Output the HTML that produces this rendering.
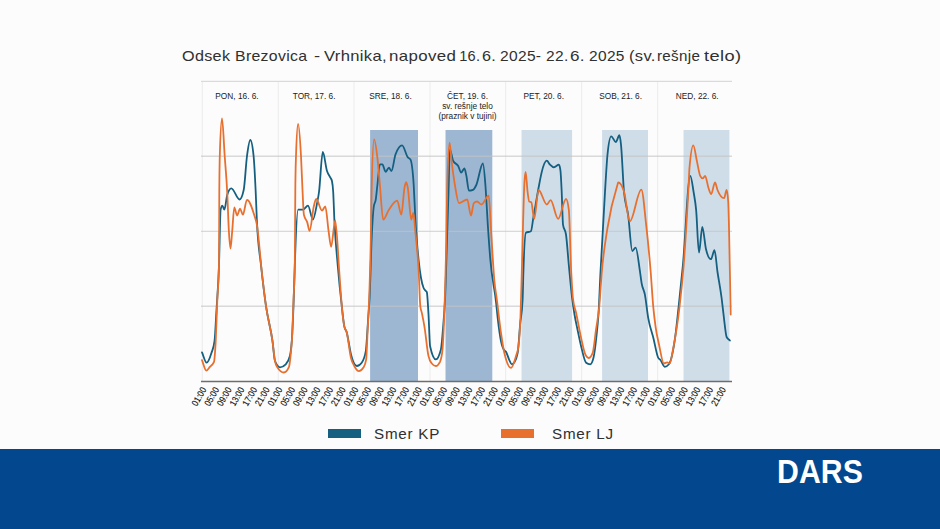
<!DOCTYPE html>
<html><head><meta charset="utf-8">
<style>
html,body{margin:0;padding:0;}
body{width:940px;height:529px;overflow:hidden;background:#fcfcfc;position:relative;font-family:"Liberation Sans", sans-serif;}
#title{position:absolute;left:0;top:47.5px;width:940px;height:20px;font-size:14.6px;color:#303030;letter-spacing:0.3px;white-space:nowrap;}
#title span{position:absolute;top:0;transform-origin:0 0;}
#band{position:absolute;left:0;top:448.5px;width:940px;height:81px;background:#03478e;}
#dars{position:absolute;left:777px;top:453px;font-size:33.6px;font-weight:bold;color:#fff;letter-spacing:0.1px;transform:scaleX(0.9);transform-origin:0 0;}
svg{position:absolute;left:0;top:0;}
.leg{position:absolute;top:429.2px;width:33px;height:8.4px;}
.legt{position:absolute;top:425px;font-size:15.2px;color:#303030;letter-spacing:0.75px;}
</style></head><body>
<svg width="940" height="529" viewBox="0 0 940 529" font-family='"Liberation Sans", sans-serif'>
<line x1="202.3" y1="81" x2="202.3" y2="381" stroke="#eeeeee" stroke-width="1.2"/>
<line x1="278.3" y1="81" x2="278.3" y2="381" stroke="#eeeeee" stroke-width="1.2"/>
<line x1="354.0" y1="81" x2="354.0" y2="381" stroke="#eeeeee" stroke-width="1.2"/>
<line x1="430.0" y1="81" x2="430.0" y2="381" stroke="#eeeeee" stroke-width="1.2"/>
<line x1="505.6" y1="81" x2="505.6" y2="381" stroke="#eeeeee" stroke-width="1.2"/>
<line x1="581.6" y1="81" x2="581.6" y2="381" stroke="#eeeeee" stroke-width="1.2"/>
<line x1="657.6" y1="81" x2="657.6" y2="381" stroke="#eeeeee" stroke-width="1.2"/>
<rect x="370.1" y="130" width="47.9" height="251.5" fill="#9db7d3"/>
<rect x="445.5" y="130" width="46.8" height="251.5" fill="#9db7d3"/>
<rect x="521.5" y="130" width="50.6" height="251.5" fill="#cfdde9"/>
<rect x="602.1" y="130" width="45.9" height="251.5" fill="#cfdde9"/>
<rect x="683.5" y="130" width="45.9" height="251.5" fill="#cfdde9"/>
<line x1="201" y1="81.3" x2="732" y2="81.3" stroke="#dadada" stroke-width="1.3"/>
<line x1="201" y1="156.3" x2="732" y2="156.3" stroke="rgb(196,196,196)" stroke-opacity="0.62" stroke-width="1.4"/>
<line x1="201" y1="231.4" x2="732" y2="231.4" stroke="rgb(196,196,196)" stroke-opacity="0.62" stroke-width="1.4"/>
<line x1="201" y1="306.3" x2="732" y2="306.3" stroke="rgb(196,196,196)" stroke-opacity="0.62" stroke-width="1.4"/>
<path d="M202.0 352.4 C203.5 355.8 205.1 362.7 206.6 362.7 C208.2 362.7 209.9 358.0 211.5 352.8 C212.5 349.6 213.5 348.9 214.5 341.2 C215.2 336.0 215.8 321.1 216.5 310.0 C217.3 296.1 218.2 288.4 219.0 265.0 C219.5 250.0 220.1 212.3 220.6 209.7 C221.2 207.0 221.7 205.6 222.3 205.6 C223.0 205.6 223.7 209.7 224.4 209.7 C225.3 209.7 226.3 197.9 227.2 194.9 C228.6 190.5 229.9 188.3 231.3 188.3 C234.1 188.3 236.8 199.5 239.6 199.5 C241.0 199.5 242.3 196.3 243.7 190.0 C244.8 184.9 245.9 164.3 247.0 156.0 C248.1 147.7 249.2 140.0 250.3 140.0 C251.4 140.0 252.5 145.3 253.6 156.0 C254.3 162.8 255.0 176.8 255.7 192.0 C256.1 200.7 256.5 212.8 256.9 221.3 C258.3 250.4 259.6 251.9 261.0 265.0 C262.7 280.9 264.3 294.5 266.0 306.2 C268.2 321.4 270.3 325.6 272.5 341.2 C273.3 347.2 274.2 358.9 275.0 361.0 C276.7 365.2 278.3 367.3 280.0 367.3 C281.9 367.3 283.8 366.3 285.7 364.3 C287.1 362.8 288.5 361.5 289.9 356.0 C290.7 352.8 291.5 347.7 292.3 333.0 C292.8 324.4 293.2 313.2 293.7 300.0 C294.1 289.7 294.4 275.3 294.8 265.0 C295.9 234.1 297.0 209.7 298.1 209.7 C299.7 209.7 301.4 209.7 303.0 209.7 C304.7 209.7 306.3 205.6 308.0 205.6 C309.6 205.6 311.3 219.6 312.9 219.6 C314.3 219.6 315.7 210.4 317.1 203.1 C317.7 199.8 318.4 196.7 319.0 192.0 C320.3 182.6 321.5 152.0 322.8 152.0 C324.2 152.0 325.6 166.7 327.0 171.0 C328.1 174.4 329.2 175.3 330.3 177.5 C330.8 178.6 331.4 178.6 331.9 180.8 C332.3 182.6 332.8 184.9 333.2 192.0 C333.6 198.6 334.0 212.0 334.4 220.4 C335.5 243.5 336.6 251.8 337.7 265.0 C339.1 281.4 340.4 294.1 341.8 306.2 C342.6 313.6 343.5 322.4 344.3 326.4 C345.1 330.3 345.9 329.5 346.7 332.2 C348.1 337.1 349.6 348.9 351.0 354.4 C352.9 361.8 354.9 366.0 356.8 366.0 C358.4 366.0 360.1 364.9 361.7 362.7 C363.1 360.9 364.4 358.8 365.8 351.1 C366.6 346.4 367.5 328.0 368.3 316.5 C368.7 311.0 369.1 307.7 369.5 300.0 C370.2 286.6 370.9 255.5 371.6 240.0 C372.3 223.8 373.1 211.5 373.8 206.4 C374.4 202.0 375.1 203.7 375.7 199.8 C376.3 196.3 376.8 189.8 377.4 185.0 C378.2 177.9 379.1 164.4 379.9 164.4 C380.7 164.4 381.6 164.4 382.4 164.4 C383.5 164.4 384.5 171.8 385.6 171.8 C386.7 171.8 387.8 167.7 388.9 167.7 C389.7 167.7 390.6 171.0 391.4 171.0 C392.8 171.0 394.1 158.3 395.5 154.5 C397.7 148.4 399.9 145.4 402.1 145.4 C404.0 145.4 406.0 155.1 407.9 157.4 C408.7 158.4 409.6 158.1 410.4 159.4 C411.5 161.2 412.6 167.9 413.7 185.0 C414.2 193.3 414.8 208.6 415.3 218.0 C415.9 228.0 416.4 235.6 417.0 242.7 C417.5 249.4 418.1 254.8 418.6 259.8 C420.2 275.3 421.9 283.6 423.5 287.8 C424.1 289.3 424.6 289.6 425.2 290.3 C425.7 291.0 426.3 290.9 426.8 292.0 C427.4 293.2 427.9 304.8 428.5 314.2 C429.0 323.1 429.6 343.8 430.1 346.2 C432.0 355.0 434.0 359.4 435.9 359.4 C437.6 359.4 439.2 356.1 440.9 349.5 C441.7 346.3 442.5 334.9 443.3 324.7 C443.9 317.5 444.4 312.3 445.0 300.0 C445.7 285.6 446.3 260.8 447.0 240.0 C447.5 224.4 448.0 207.6 448.5 192.0 C449.0 177.5 449.4 149.5 449.9 149.5 C451.0 149.5 452.1 158.8 453.2 161.0 C454.9 164.3 456.5 163.0 458.2 166.0 C459.2 167.7 460.1 172.6 461.1 172.6 C462.2 172.6 463.3 168.5 464.4 168.5 C465.1 168.5 465.7 172.8 466.4 175.9 C467.2 179.8 468.1 190.7 468.9 190.7 C470.3 190.7 471.6 190.4 473.0 189.9 C474.1 189.5 475.2 187.3 476.3 185.0 C478.5 180.4 480.7 163.5 482.9 163.5 C483.7 163.5 484.6 174.6 485.4 185.0 C486.2 195.4 487.1 213.6 487.9 226.2 C488.7 238.3 489.5 249.7 490.3 259.2 C492.2 282.2 494.2 285.0 496.1 302.7 C496.6 307.6 497.2 313.4 497.7 318.1 C498.8 327.7 499.9 335.8 501.0 341.2 C502.1 346.4 503.1 348.6 504.2 350.2 C504.8 351.1 505.3 350.8 505.9 351.6 C507.0 353.1 508.1 357.5 509.2 359.8 C510.1 361.6 511.0 364.4 511.9 364.4 C512.7 364.4 513.4 363.8 514.2 362.6 C515.4 360.8 516.5 359.3 517.7 352.8 C518.5 348.3 519.3 333.4 520.1 324.7 C520.9 315.7 521.8 316.5 522.6 300.0 C522.9 294.7 523.1 280.1 523.4 272.0 C524.2 246.7 525.1 233.3 525.9 232.8 C527.6 231.7 529.2 232.3 530.9 231.2 C531.7 230.7 532.5 222.4 533.3 218.0 C535.2 207.3 537.2 195.0 539.1 185.0 C539.9 180.7 540.8 176.0 541.6 172.6 C543.3 165.5 545.1 160.7 546.8 160.7 C547.8 160.7 548.8 163.4 549.8 164.4 C551.2 165.8 552.5 167.3 553.9 167.3 C555.6 167.3 557.2 164.7 558.9 164.7 C559.4 164.7 560.0 166.8 560.5 171.0 C560.9 174.2 561.3 183.5 561.7 192.0 C562.1 201.2 562.6 221.7 563.0 224.6 C564.0 231.2 565.0 227.9 566.0 234.5 C566.9 240.7 567.9 255.2 568.8 265.0 C569.9 276.5 571.0 289.0 572.1 298.0 C572.9 304.6 573.7 309.6 574.5 314.5 C575.6 321.2 576.7 325.7 577.8 331.0 C578.9 336.3 580.0 341.7 581.1 346.2 C582.8 353.0 584.4 361.4 586.1 362.7 C587.5 363.8 588.8 364.3 590.2 364.3 C591.3 364.3 592.4 362.1 593.5 357.7 C594.6 353.3 595.7 343.9 596.8 333.0 C597.4 327.4 597.9 322.9 598.5 314.0 C599.2 303.5 599.8 285.3 600.5 272.0 C602.0 242.0 603.5 216.0 605.0 192.0 C605.8 178.7 606.7 162.7 607.5 154.5 C608.7 142.4 610.0 136.3 611.2 136.3 C612.7 136.3 614.3 142.1 615.8 142.1 C617.0 142.1 618.2 135.2 619.4 135.2 C619.9 135.2 620.5 139.6 621.0 144.6 C622.0 153.9 623.0 180.9 624.0 192.0 C625.4 207.1 626.7 205.0 628.1 214.7 C629.5 224.6 630.9 251.0 632.3 251.0 C633.4 251.0 634.5 247.7 635.6 247.7 C637.1 247.7 638.5 261.7 640.0 271.6 C640.5 275.2 641.1 279.9 641.6 283.1 C642.7 289.7 643.8 288.9 644.9 294.7 C646.0 300.5 647.1 311.4 648.2 317.8 C650.0 328.1 651.7 331.4 653.5 338.5 C655.0 344.7 656.6 354.2 658.1 357.5 C658.9 359.3 659.8 359.1 660.6 360.2 C662.0 362.0 663.3 366.8 664.7 366.8 C666.1 366.8 667.5 366.0 668.9 364.3 C670.8 362.0 672.7 353.9 674.6 341.2 C676.0 332.1 677.3 318.7 678.7 306.2 C680.1 293.4 681.5 279.9 682.9 265.0 C685.4 238.8 687.8 175.9 690.3 175.9 C691.4 175.9 692.5 185.3 693.6 192.0 C694.4 197.1 695.3 200.8 696.1 209.7 C697.1 220.0 698.0 252.6 699.0 252.6 C700.1 252.6 701.2 227.0 702.3 227.0 C703.5 227.0 704.8 244.3 706.0 249.3 C707.6 255.9 709.3 259.2 710.9 259.2 C712.1 259.2 713.3 250.1 714.5 250.1 C715.5 250.1 716.5 265.1 717.5 272.0 C718.9 281.4 720.2 287.4 721.6 298.0 C722.4 304.4 723.3 312.9 724.1 319.4 C724.9 325.9 725.8 335.2 726.6 337.0 C727.7 339.3 728.8 339.3 729.9 340.5" fill="none" stroke="#155f80" stroke-width="1.8" stroke-linejoin="round" stroke-linecap="round"/>
<path d="M202.0 360.2 C203.4 363.7 204.9 370.6 206.3 370.6 C207.5 370.6 208.7 368.2 209.9 366.8 C211.3 365.3 212.6 365.1 214.0 361.8 C214.6 360.4 215.1 352.0 215.7 341.2 C216.2 331.0 216.8 312.4 217.3 300.0 C217.9 286.8 218.4 288.3 219.0 265.0 C219.1 260.9 219.2 206.4 219.3 192.0 C219.5 168.0 219.6 161.7 219.8 156.0 C220.5 131.0 221.3 118.5 222.0 118.5 C222.9 118.5 223.8 143.3 224.7 156.0 C225.5 167.8 226.4 175.7 227.2 192.0 C227.8 203.1 228.3 221.7 228.9 231.2 C229.4 240.1 230.0 248.5 230.5 248.5 C231.1 248.5 231.6 237.3 232.2 231.2 C232.9 223.7 233.6 207.3 234.3 207.3 C235.2 207.3 236.2 215.5 237.1 215.5 C238.1 215.5 239.1 208.6 240.1 208.6 C241.0 208.6 242.0 214.7 242.9 214.7 C244.3 214.7 245.6 199.8 247.0 199.8 C249.5 199.8 251.9 207.5 254.4 215.5 C255.2 218.2 256.1 219.9 256.9 224.6 C258.5 233.9 260.2 257.5 261.8 272.0 C263.2 284.4 264.6 296.3 266.0 306.2 C268.2 321.5 270.3 325.6 272.5 341.2 C273.3 347.2 274.2 356.6 275.0 361.0 C275.8 365.4 276.7 366.3 277.5 367.6 C279.6 370.9 281.7 372.5 283.8 372.5 C285.5 372.5 287.3 370.6 289.0 366.8 C289.6 365.6 290.1 360.3 290.7 354.4 C291.2 348.8 291.8 344.4 292.3 333.0 C292.7 324.4 293.1 310.9 293.5 300.0 C293.9 288.2 294.4 288.3 294.8 265.0 C295.0 256.0 295.1 209.1 295.3 192.0 C295.5 168.0 295.8 163.1 296.0 156.0 C296.7 134.7 297.4 124.0 298.1 124.0 C299.1 124.0 300.0 137.9 301.0 156.0 C301.5 165.4 302.0 180.0 302.5 190.0 C303.0 199.4 303.4 212.6 303.9 214.7 C305.0 219.6 306.1 218.8 307.2 222.1 C308.0 224.5 308.8 230.8 309.6 230.8 C311.0 230.8 312.4 212.1 313.8 206.4 C314.6 203.1 315.4 199.0 316.2 199.0 C318.1 199.0 320.1 210.6 322.0 210.6 C323.1 210.6 324.2 206.4 325.3 206.4 C326.4 206.4 327.5 223.7 328.6 231.2 C329.4 236.9 330.3 246.8 331.1 246.8 C332.5 246.8 333.8 220.4 335.2 220.4 C336.6 220.4 337.9 253.9 339.3 272.0 C340.1 283.1 341.0 297.1 341.8 306.2 C342.6 315.3 343.5 322.4 344.3 326.4 C345.1 330.3 345.9 329.2 346.7 332.2 C348.1 337.4 349.5 352.0 350.9 357.7 C352.0 362.3 353.2 363.9 354.3 366.0 C355.8 368.9 357.4 371.2 358.9 371.2 C360.4 371.2 361.9 370.0 363.4 367.6 C364.3 366.1 365.3 364.9 366.2 359.4 C366.6 356.9 367.1 341.9 367.5 333.0 C368.0 322.1 368.6 314.8 369.1 300.0 C369.7 284.3 370.2 269.5 370.8 240.0 C371.1 226.1 371.3 203.2 371.6 192.0 C372.4 156.9 373.3 139.3 374.1 139.3 C375.2 139.3 376.3 148.3 377.4 157.8 C378.2 165.0 379.1 176.1 379.9 185.0 C381.0 196.8 382.1 219.6 383.2 219.6 C385.1 219.6 387.0 212.5 388.9 209.7 C391.7 205.6 394.4 200.7 397.2 200.7 C398.6 200.7 399.9 214.7 401.3 214.7 C402.4 214.7 403.5 192.2 404.6 187.0 C405.1 184.5 405.7 182.2 406.2 182.2 C406.8 182.2 407.3 185.1 407.9 188.3 C409.0 194.5 410.1 219.6 411.2 219.6 C411.9 219.6 412.6 213.0 413.3 213.0 C414.0 213.0 414.6 224.5 415.3 231.2 C416.4 242.3 417.5 249.8 418.6 269.7 C419.2 279.9 419.7 300.9 420.3 306.0 C420.8 310.8 421.4 310.6 421.9 313.2 C422.7 317.2 423.6 321.4 424.4 326.4 C425.8 334.6 427.1 350.0 428.5 356.1 C429.6 361.0 430.7 362.2 431.8 363.5 C433.2 365.2 434.5 366.0 435.9 366.0 C437.3 366.0 438.6 364.6 440.0 361.8 C440.8 360.1 441.7 357.7 442.5 349.5 C443.1 343.9 443.6 331.8 444.2 316.5 C444.9 297.6 445.6 277.4 446.3 240.0 C446.6 225.7 446.8 202.5 447.1 192.0 C447.9 159.1 448.8 142.6 449.6 142.6 C450.3 142.6 450.9 155.4 451.6 161.0 C452.7 170.3 453.8 178.4 454.9 185.0 C456.3 193.2 457.6 203.1 459.0 203.1 C461.7 203.1 464.5 199.5 467.2 199.5 C468.5 199.5 469.7 215.5 471.0 215.5 C471.9 215.5 472.9 204.0 473.8 203.1 C474.9 202.0 476.0 201.5 477.1 201.5 C478.5 201.5 479.9 204.5 481.3 204.5 C483.8 204.5 486.2 195.7 488.7 195.7 C489.5 195.7 490.3 219.2 491.1 231.2 C492.2 247.6 493.3 269.3 494.4 281.2 C495.2 290.2 496.1 293.6 496.9 300.0 C498.3 310.6 499.6 323.6 501.0 333.0 C502.1 340.6 503.2 347.9 504.3 352.8 C506.6 362.9 508.8 367.9 511.1 367.9 C512.7 367.9 514.4 361.7 516.0 356.1 C516.8 353.2 517.7 352.8 518.5 346.2 C519.2 340.9 519.8 334.2 520.5 316.5 C520.9 305.0 521.4 286.9 521.8 272.0 C522.6 243.3 523.5 200.5 524.3 185.0 C524.7 176.9 525.2 171.8 525.6 171.8 C526.3 171.8 526.9 186.8 527.6 192.0 C528.1 196.2 528.7 201.1 529.2 201.5 C529.9 202.0 530.6 201.8 531.3 202.3 C532.3 203.0 533.2 218.8 534.2 218.8 C535.7 218.8 537.1 190.0 538.6 190.0 C541.3 190.0 544.1 204.5 546.8 204.5 C548.1 204.5 549.3 200.2 550.6 200.2 C553.1 200.2 555.6 218.8 558.1 218.8 C560.7 218.8 563.4 199.0 566.0 199.0 C566.9 199.0 567.9 202.6 568.8 209.7 C569.6 215.8 570.4 256.2 571.2 272.0 C571.8 283.2 572.3 292.8 572.9 298.0 C574.0 308.1 575.1 307.9 576.2 313.2 C577.8 321.0 579.5 330.6 581.1 337.9 C582.5 344.1 583.9 351.3 585.3 354.4 C586.4 356.8 587.5 358.0 588.6 358.0 C590.0 358.0 591.3 356.3 592.7 352.8 C593.8 350.0 594.9 337.5 596.0 329.7 C597.1 321.9 598.2 318.1 599.3 306.2 C600.1 297.2 601.0 281.9 601.8 272.0 C603.7 249.5 605.6 240.2 607.5 227.9 C610.8 206.5 614.1 195.6 617.4 185.0 C617.7 184.1 617.9 182.5 618.2 182.5 C620.1 182.5 622.1 185.5 624.0 191.6 C625.9 197.7 627.9 221.3 629.8 221.3 C633.6 221.3 637.5 189.6 641.3 189.6 C643.0 189.6 644.6 211.3 646.3 226.2 C647.8 239.3 649.2 253.7 650.7 272.0 C651.5 282.4 652.4 296.9 653.2 306.2 C654.0 315.5 654.9 321.8 655.7 327.7 C656.8 335.5 657.9 339.4 659.0 344.5 C660.6 352.0 662.3 363.5 663.9 363.5 C665.0 363.5 666.1 362.3 667.2 362.3 C668.0 362.3 668.9 363.5 669.7 363.5 C670.8 363.5 671.9 355.0 673.0 349.5 C675.2 338.5 677.4 325.4 679.6 306.2 C681.0 294.3 682.3 282.6 683.7 265.0 C685.3 243.9 687.0 215.7 688.6 185.0 C688.9 179.4 689.2 171.2 689.5 167.7 C690.8 152.8 692.0 145.4 693.3 145.4 C694.5 145.4 695.7 155.8 696.9 161.1 C698.0 166.0 699.1 173.7 700.2 175.9 C701.0 177.6 701.9 178.4 702.7 178.4 C703.5 178.4 704.3 175.9 705.1 175.9 C706.2 175.9 707.4 184.8 708.5 188.0 C709.4 190.6 710.3 194.1 711.2 194.1 C712.5 194.1 713.7 182.5 715.0 182.5 C715.8 182.5 716.7 187.9 717.5 190.0 C719.7 195.5 721.9 198.2 724.1 198.2 C724.9 198.2 725.8 189.9 726.6 189.9 C727.1 189.9 727.7 193.8 728.2 201.5 C728.8 209.7 729.3 244.0 729.9 272.0 C730.2 285.2 730.4 300.3 730.7 314.5" fill="none" stroke="#e8702f" stroke-width="1.8" stroke-linejoin="round" stroke-linecap="round"/>
<line x1="201" y1="381.5" x2="732" y2="381.5" stroke="#6e6e6e" stroke-width="1.5"/>
<text x="237.0" y="99.3" text-anchor="middle" font-size="8.3" fill="#222">PON, 16. 6.</text>
<text x="314.1" y="99.3" text-anchor="middle" font-size="8.3" fill="#222">TOR, 17. 6.</text>
<text x="390.5" y="99.3" text-anchor="middle" font-size="8.3" fill="#222">SRE, 18. 6.</text>
<text x="467.5" y="99.3" text-anchor="middle" font-size="8.3" fill="#222">ČET, 19. 6.</text>
<text x="467.5" y="108.9" text-anchor="middle" font-size="8.3" fill="#222">sv. rešnje telo</text>
<text x="467.5" y="118.5" text-anchor="middle" font-size="8.3" fill="#222">(praznik v tujini)</text>
<text x="543.7" y="99.3" text-anchor="middle" font-size="8.3" fill="#222">PET, 20. 6.</text>
<text x="620.6" y="99.3" text-anchor="middle" font-size="8.3" fill="#222">SOB, 21. 6.</text>
<text x="697.2" y="99.3" text-anchor="middle" font-size="8.3" fill="#222">NED, 22. 6.</text>
<text transform="translate(206.7 389.5) rotate(-60) scale(0.85 1)" text-anchor="end" font-size="9.4" fill="#111" stroke="#111" stroke-width="0.12" text-rendering="geometricPrecision">01:00</text>
<text transform="translate(219.4 389.5) rotate(-60) scale(0.85 1)" text-anchor="end" font-size="9.4" fill="#111" stroke="#111" stroke-width="0.12" text-rendering="geometricPrecision">05:00</text>
<text transform="translate(232.0 389.5) rotate(-60) scale(0.85 1)" text-anchor="end" font-size="9.4" fill="#111" stroke="#111" stroke-width="0.12" text-rendering="geometricPrecision">09:00</text>
<text transform="translate(244.7 389.5) rotate(-60) scale(0.85 1)" text-anchor="end" font-size="9.4" fill="#111" stroke="#111" stroke-width="0.12" text-rendering="geometricPrecision">13:00</text>
<text transform="translate(257.4 389.5) rotate(-60) scale(0.85 1)" text-anchor="end" font-size="9.4" fill="#111" stroke="#111" stroke-width="0.12" text-rendering="geometricPrecision">17:00</text>
<text transform="translate(270.0 389.5) rotate(-60) scale(0.85 1)" text-anchor="end" font-size="9.4" fill="#111" stroke="#111" stroke-width="0.12" text-rendering="geometricPrecision">21:00</text>
<text transform="translate(282.7 389.5) rotate(-60) scale(0.85 1)" text-anchor="end" font-size="9.4" fill="#111" stroke="#111" stroke-width="0.12" text-rendering="geometricPrecision">01:00</text>
<text transform="translate(295.4 389.5) rotate(-60) scale(0.85 1)" text-anchor="end" font-size="9.4" fill="#111" stroke="#111" stroke-width="0.12" text-rendering="geometricPrecision">05:00</text>
<text transform="translate(308.0 389.5) rotate(-60) scale(0.85 1)" text-anchor="end" font-size="9.4" fill="#111" stroke="#111" stroke-width="0.12" text-rendering="geometricPrecision">09:00</text>
<text transform="translate(320.7 389.5) rotate(-60) scale(0.85 1)" text-anchor="end" font-size="9.4" fill="#111" stroke="#111" stroke-width="0.12" text-rendering="geometricPrecision">13:00</text>
<text transform="translate(333.4 389.5) rotate(-60) scale(0.85 1)" text-anchor="end" font-size="9.4" fill="#111" stroke="#111" stroke-width="0.12" text-rendering="geometricPrecision">17:00</text>
<text transform="translate(346.0 389.5) rotate(-60) scale(0.85 1)" text-anchor="end" font-size="9.4" fill="#111" stroke="#111" stroke-width="0.12" text-rendering="geometricPrecision">21:00</text>
<text transform="translate(358.7 389.5) rotate(-60) scale(0.85 1)" text-anchor="end" font-size="9.4" fill="#111" stroke="#111" stroke-width="0.12" text-rendering="geometricPrecision">01:00</text>
<text transform="translate(371.4 389.5) rotate(-60) scale(0.85 1)" text-anchor="end" font-size="9.4" fill="#111" stroke="#111" stroke-width="0.12" text-rendering="geometricPrecision">05:00</text>
<text transform="translate(384.1 389.5) rotate(-60) scale(0.85 1)" text-anchor="end" font-size="9.4" fill="#111" stroke="#111" stroke-width="0.12" text-rendering="geometricPrecision">09:00</text>
<text transform="translate(396.7 389.5) rotate(-60) scale(0.85 1)" text-anchor="end" font-size="9.4" fill="#111" stroke="#111" stroke-width="0.12" text-rendering="geometricPrecision">13:00</text>
<text transform="translate(409.4 389.5) rotate(-60) scale(0.85 1)" text-anchor="end" font-size="9.4" fill="#111" stroke="#111" stroke-width="0.12" text-rendering="geometricPrecision">17:00</text>
<text transform="translate(422.1 389.5) rotate(-60) scale(0.85 1)" text-anchor="end" font-size="9.4" fill="#111" stroke="#111" stroke-width="0.12" text-rendering="geometricPrecision">21:00</text>
<text transform="translate(434.7 389.5) rotate(-60) scale(0.85 1)" text-anchor="end" font-size="9.4" fill="#111" stroke="#111" stroke-width="0.12" text-rendering="geometricPrecision">01:00</text>
<text transform="translate(447.4 389.5) rotate(-60) scale(0.85 1)" text-anchor="end" font-size="9.4" fill="#111" stroke="#111" stroke-width="0.12" text-rendering="geometricPrecision">05:00</text>
<text transform="translate(460.1 389.5) rotate(-60) scale(0.85 1)" text-anchor="end" font-size="9.4" fill="#111" stroke="#111" stroke-width="0.12" text-rendering="geometricPrecision">09:00</text>
<text transform="translate(472.7 389.5) rotate(-60) scale(0.85 1)" text-anchor="end" font-size="9.4" fill="#111" stroke="#111" stroke-width="0.12" text-rendering="geometricPrecision">13:00</text>
<text transform="translate(485.4 389.5) rotate(-60) scale(0.85 1)" text-anchor="end" font-size="9.4" fill="#111" stroke="#111" stroke-width="0.12" text-rendering="geometricPrecision">17:00</text>
<text transform="translate(498.1 389.5) rotate(-60) scale(0.85 1)" text-anchor="end" font-size="9.4" fill="#111" stroke="#111" stroke-width="0.12" text-rendering="geometricPrecision">21:00</text>
<text transform="translate(510.7 389.5) rotate(-60) scale(0.85 1)" text-anchor="end" font-size="9.4" fill="#111" stroke="#111" stroke-width="0.12" text-rendering="geometricPrecision">01:00</text>
<text transform="translate(523.4 389.5) rotate(-60) scale(0.85 1)" text-anchor="end" font-size="9.4" fill="#111" stroke="#111" stroke-width="0.12" text-rendering="geometricPrecision">05:00</text>
<text transform="translate(536.1 389.5) rotate(-60) scale(0.85 1)" text-anchor="end" font-size="9.4" fill="#111" stroke="#111" stroke-width="0.12" text-rendering="geometricPrecision">09:00</text>
<text transform="translate(548.7 389.5) rotate(-60) scale(0.85 1)" text-anchor="end" font-size="9.4" fill="#111" stroke="#111" stroke-width="0.12" text-rendering="geometricPrecision">13:00</text>
<text transform="translate(561.4 389.5) rotate(-60) scale(0.85 1)" text-anchor="end" font-size="9.4" fill="#111" stroke="#111" stroke-width="0.12" text-rendering="geometricPrecision">17:00</text>
<text transform="translate(574.1 389.5) rotate(-60) scale(0.85 1)" text-anchor="end" font-size="9.4" fill="#111" stroke="#111" stroke-width="0.12" text-rendering="geometricPrecision">21:00</text>
<text transform="translate(586.7 389.5) rotate(-60) scale(0.85 1)" text-anchor="end" font-size="9.4" fill="#111" stroke="#111" stroke-width="0.12" text-rendering="geometricPrecision">01:00</text>
<text transform="translate(599.4 389.5) rotate(-60) scale(0.85 1)" text-anchor="end" font-size="9.4" fill="#111" stroke="#111" stroke-width="0.12" text-rendering="geometricPrecision">05:00</text>
<text transform="translate(612.1 389.5) rotate(-60) scale(0.85 1)" text-anchor="end" font-size="9.4" fill="#111" stroke="#111" stroke-width="0.12" text-rendering="geometricPrecision">09:00</text>
<text transform="translate(624.7 389.5) rotate(-60) scale(0.85 1)" text-anchor="end" font-size="9.4" fill="#111" stroke="#111" stroke-width="0.12" text-rendering="geometricPrecision">13:00</text>
<text transform="translate(637.4 389.5) rotate(-60) scale(0.85 1)" text-anchor="end" font-size="9.4" fill="#111" stroke="#111" stroke-width="0.12" text-rendering="geometricPrecision">17:00</text>
<text transform="translate(650.1 389.5) rotate(-60) scale(0.85 1)" text-anchor="end" font-size="9.4" fill="#111" stroke="#111" stroke-width="0.12" text-rendering="geometricPrecision">21:00</text>
<text transform="translate(662.7 389.5) rotate(-60) scale(0.85 1)" text-anchor="end" font-size="9.4" fill="#111" stroke="#111" stroke-width="0.12" text-rendering="geometricPrecision">01:00</text>
<text transform="translate(675.4 389.5) rotate(-60) scale(0.85 1)" text-anchor="end" font-size="9.4" fill="#111" stroke="#111" stroke-width="0.12" text-rendering="geometricPrecision">05:00</text>
<text transform="translate(688.1 389.5) rotate(-60) scale(0.85 1)" text-anchor="end" font-size="9.4" fill="#111" stroke="#111" stroke-width="0.12" text-rendering="geometricPrecision">09:00</text>
<text transform="translate(700.8 389.5) rotate(-60) scale(0.85 1)" text-anchor="end" font-size="9.4" fill="#111" stroke="#111" stroke-width="0.12" text-rendering="geometricPrecision">13:00</text>
<text transform="translate(713.4 389.5) rotate(-60) scale(0.85 1)" text-anchor="end" font-size="9.4" fill="#111" stroke="#111" stroke-width="0.12" text-rendering="geometricPrecision">17:00</text>
<text transform="translate(726.1 389.5) rotate(-60) scale(0.85 1)" text-anchor="end" font-size="9.4" fill="#111" stroke="#111" stroke-width="0.12" text-rendering="geometricPrecision">21:00</text>
</svg>
<div id="title"><span style="left:181.9px;transform:scaleX(1.107)">Odsek</span><span style="left:235.1px;transform:scaleX(1.085)">Brezovica</span><span style="left:313.8px;transform:scaleX(1.250)">-</span><span style="left:323.9px;transform:scaleX(1.137)">Vrhnika,</span><span style="left:389.1px;transform:scaleX(1.155)">napoved</span><span style="left:459.2px;transform:scaleX(1.0)">16.</span><span style="left:482.2px;transform:scaleX(1.110)">6.</span><span style="left:500.4px;transform:scaleX(1.065)">2025-</span><span style="left:546.0px;transform:scaleX(1.063)">22.</span><span style="left:570.4px;transform:scaleX(1.170)">6.</span><span style="left:588.6px;transform:scaleX(1.062)">2025</span><span style="left:628.6px;transform:scaleX(1.133)">(sv.</span><span style="left:656.8px;transform:scaleX(1.038)">rešnje</span><span style="left:703.5px;transform:scaleX(1.250)">telo)</span></div>
<div class="leg" style="left:328.2px;background:#155f80"></div>
<div class="legt" style="left:374px">Smer KP</div>
<div class="leg" style="left:500.7px;background:#e8702f"></div>
<div class="legt" style="left:552px">Smer LJ</div>
<div id="band"></div>
<div id="dars">DARS</div>
</body></html>
